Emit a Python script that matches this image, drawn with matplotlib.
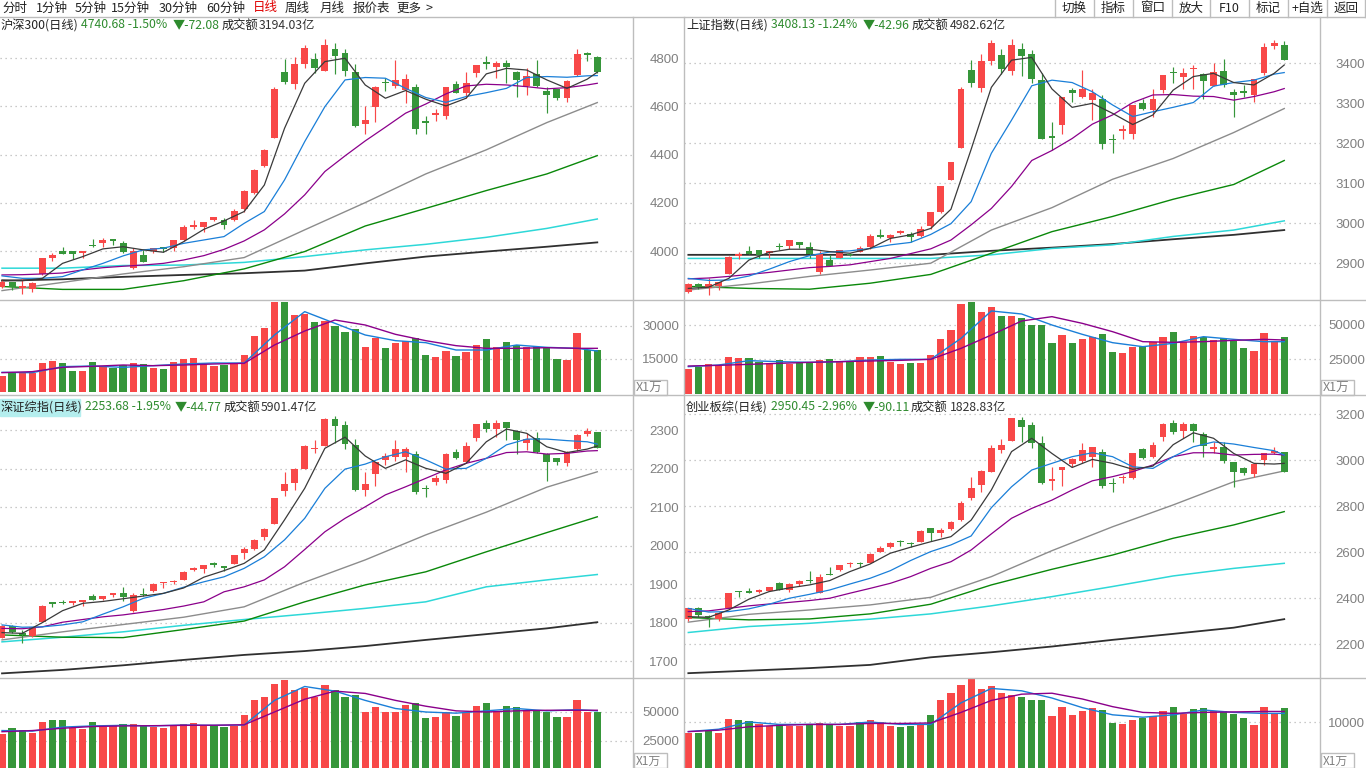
import matplotlib
matplotlib.use('Agg')
import matplotlib.pyplot as plt
from matplotlib.lines import Line2D
from matplotlib.patches import Rectangle

plt.rcParams['font.family'] = ['Noto Sans CJK SC', 'DejaVu Sans']

W, H = 1366, 768
RED = '#f84848'
GREEN = '#36963a'
MA_COLORS = ['#3a3a3a', '#1a7fd8', '#8b008b', '#8c8c8c', '#0a880a', '#2ed8d8', '#303030']
VMA_COLORS = ['#1a7fd8', '#8b008b']
SEP = '#bdbdbd'
LBL = '#808080'

MA_X_S = list(range(0, 60, 2)) + [59]
MA_X_L = list(range(0, 60, 6)) + [59]
VMA_X = list(range(0, 60, 3)) + [59]

# ---------------- 沪深300 ----------------
hs_open = [3853,3871,3848,3843,3904,3973,4000,4000,3991,4025,
           4032,4046,4032,3931,3983,4000,4014,4012,4046,4101,
           4101,4129,4128,4129,4175,4240,4353,4467,4743,4695,
           4774,4797,4745,4839,4821,4742,4527,4599,4700,4686,
           4668,4680,4537,4565,4561,4693,4655,4740,4782,4765,
           4782,4743,4686,4733,4664,4671,4633,4731,4818,4807]
hs_high = [3880,3873,3887,3871,3973,3994,4016,4000,4000,4049,
           4053,4046,4041,4012,4005,4012,4018,4046,4108,4129,
           4122,4143,4136,4173,4254,4341,4422,4682,4796,4804,
           4855,4822,4879,4862,4839,4776,4602,4685,4717,4793,
           4735,4693,4561,4588,4682,4707,4743,4772,4810,4789,
           4793,4749,4758,4793,4682,4671,4710,4839,4825,4811]
hs_low = [3846,3839,3821,3832,3901,3960,3987,3967,3970,4018,
          4018,4025,3991,3926,3956,3991,3998,4002,4043,4090,
          4081,4126,4093,4126,4164,4237,4350,4467,4691,4674,
          4761,4738,4745,4733,4728,4516,4486,4537,4664,4678,
          4613,4485,4485,4541,4548,4655,4634,4724,4754,4717,
          4696,4641,4648,4680,4572,4627,4620,4728,4790,4740]
hs_close = [3871,3850,3855,3866,3971,3984,3987,3987,4000,4021,
            4045,4043,3998,4000,3956,4012,4009,4046,4100,4104,
            4121,4140,4108,4166,4249,4337,4420,4674,4703,4776,
            4843,4758,4855,4811,4747,4519,4544,4682,4696,4710,
            4714,4508,4533,4569,4680,4657,4699,4772,4778,4782,
            4765,4710,4727,4686,4648,4634,4706,4818,4814,4741]
hs_vol = [7280,8490,8790,8790,13030,14090,13030,9550,9550,13490,
          11520,11060,12270,13030,12580,11060,10460,13490,15000,15300,
          12580,11820,12270,12580,16820,25450,29090,41060,41060,35000,
          35450,31970,32270,30000,27270,28790,20610,24550,20150,22270,
          23330,24700,16820,16060,18640,16520,18030,21360,24090,20300,
          22730,21360,20610,20610,20150,15150,14700,26970,19090,19090]
hs_ma5 = [3880,3877,3887,3949,3977,4009,4018,4005,3995,4039,4090,4125,4164,4274,4509,4696,
          4786,4800,4689,4634,4666,4630,4602,4634,4735,4758,4751,4710,4675,4713,4742]
hs_ma10 = [3897,3887,3887,3894,3922,3949,3980,4005,4012,4032,4046,4060,4115,4164,4295,4454,
           4599,4710,4720,4717,4675,4637,4617,4641,4657,4675,4720,4724,4721,4727,4728]
hs_ma20 = [3901,3902,3905,3909,3922,3931,3937,3942,3949,3963,3981,4007,4042,4088,4154,4233,
           4330,4395,4457,4514,4572,4610,4652,4685,4692,4689,4682,4673,4678,4689,4696]
hs_ma30 = [3836,3870,3905,3935,3973,4088,4201,4320,4420,4533,4616]
hs_ma60 = [3853,3841,3841,3877,3926,3998,4104,4177,4251,4320,4396]
hs_ma120 = [3929,3929,3940,3942,3953,3977,4005,4028,4057,4094,4133]
hs_ma250 = [3877,3883,3893,3901,3908,3919,3949,3977,3998,4018,4036]
hs_vma5 = [8940,8790,11520,11820,11210,11970,12730,13180,13180,25910,36520,
           31210,25910,23330,22420,19090,19090,21360,20300,19850,18640]
hs_vma10 = [8790,9250,11210,11670,12270,11970,12270,12730,13030,21360,27730,
            32730,30450,26210,23330,21060,19850,19850,20150,19850,19850]

# ---------------- 上证指数 ----------------
sh_open = [2829,2848,2839,2842,2873,2919,2931,2933,2925,2943,
           2942,2953,2940,2879,2908,2914,2923,2929,2940,2968,
           2964,2975,2973,2967,2994,3027,3107,3189,3383,3339,
           3406,3421,3382,3435,3423,3358,3217,3246,3333,3317,
           3308,3312,3212,3232,3223,3300,3283,3333,3377,3367,
           3385,3373,3344,3381,3328,3331,3321,3375,3444,3446]
sh_high = [2850,2850,2862,2854,2917,2929,2943,2933,2931,2950,
           2958,2953,2952,2931,2921,2933,2926,2942,2973,2985,
           2973,2983,2977,2992,3029,3093,3153,3340,3408,3423,
           3458,3435,3461,3452,3433,3375,3253,3315,3339,3383,
           3337,3321,3223,3246,3296,3311,3335,3371,3392,3389,
           3396,3377,3402,3410,3337,3346,3360,3452,3458,3456]
sh_low = [2825,2835,2821,2833,2873,2910,2923,2912,2912,2933,
          2936,2937,2912,2872,2893,2914,2917,2927,2936,2962,
          2952,2973,2954,2965,2985,3025,3107,3189,3340,3329,
          3397,3373,3371,3369,3350,3212,3183,3223,3304,3314,
          3258,3186,3177,3212,3212,3283,3265,3327,3352,3336,
          3336,3310,3344,3340,3267,3317,3304,3371,3437,3408]
sh_close = [2848,2840,2847,2854,2915,2923,2923,2921,2931,2940,
            2958,2946,2923,2922,2893,2933,2920,2939,2968,2966,
            2971,2981,2965,2985,3028,3092,3153,3337,3350,3406,
            3452,3387,3446,3418,3362,3212,3214,3315,3325,3335,
            3325,3198,3208,3233,3296,3287,3311,3371,3375,3377,
            3387,3357,3379,3346,3322,3325,3360,3440,3451,3408]
sh_vol = [18000,19690,21610,19930,26650,25930,25930,23290,22090,24490,
          21610,22570,23290,24490,25210,23290,23290,26650,26650,27370,
          23050,21610,22330,22570,28090,39620,46110,64840,66530,59080,
          62680,56200,56200,54520,49710,49710,36740,42510,36740,39620,
          41070,43230,30260,29540,34100,34580,37220,41070,44670,37700,
          41790,41070,39140,40110,37940,33140,30980,43710,38420,41070]
sh_ma5 = [2837,2840,2862,2908,2927,2935,2935,2929,2925,2937,2962,2971,2987,3035,3185,3340,
          3408,3415,3336,3290,3300,3275,3247,3271,3333,3367,3375,3352,3346,3375,3396]
sh_ma10 = [2862,2857,2858,2868,2885,2904,2919,2928,2931,2937,2946,2952,2972,2999,3054,3175,
           3258,3344,3358,3352,3329,3296,3267,3279,3290,3302,3343,3352,3358,3373,3377]
sh_ma20 = [2861,2863,2867,2872,2877,2883,2889,2892,2896,2904,2912,2924,2936,2958,2996,3037,
           3092,3157,3182,3212,3248,3271,3302,3321,3322,3318,3317,3308,3317,3329,3337]
sh_ma30 = [2833,2848,2867,2883,2900,2983,3039,3110,3162,3227,3287]
sh_ma60 = [2842,2837,2835,2850,2872,2925,2979,3017,3060,3097,3157]
sh_ma120 = [2912,2912,2912,2912,2912,2921,2937,2946,2967,2983,3006]
sh_ma250 = [2921,2921,2921,2921,2921,2931,2939,2948,2960,2971,2983]
sh_vma5 = [19690,20890,24010,23290,22810,23290,24490,24970,24970,40100,59800,
           57640,49710,42990,36980,34100,36500,41300,39380,37700,37700]
sh_vma10 = [20170,20650,21370,22090,22810,23290,23770,24250,24970,32900,42510,
            52600,55720,50910,44910,37700,37220,37700,38660,39380,38900]

# ---------------- 深证综指 ----------------
sz_open = [1761,1791,1774,1765,1802,1852,1854,1852,1854,1870,
           1862,1872,1877,1830,1873,1882,1902,1905,1912,1937,
           1939,1952,1945,1952,1982,1992,2022,2057,2142,2162,
           2199,2250,2260,2329,2314,2262,2145,2186,2223,2231,
           2230,2238,2151,2166,2171,2244,2218,2279,2318,2303,
           2322,2298,2266,2279,2238,2227,2214,2251,2290,2296]
sz_high = [1794,1794,1781,1789,1845,1854,1860,1854,1859,1874,
           1870,1878,1892,1878,1889,1902,1905,1911,1935,1945,
           1950,1958,1948,1977,1996,2018,2045,2125,2192,2201,
           2261,2275,2331,2336,2323,2277,2192,2218,2240,2275,
           2256,2247,2157,2184,2240,2251,2269,2316,2327,2327,
           2322,2301,2294,2296,2242,2229,2246,2290,2305,2296]
sz_low = [1759,1774,1748,1763,1801,1841,1848,1846,1844,1859,
          1859,1866,1857,1828,1869,1880,1890,1900,1912,1933,
          1928,1944,1933,1952,1966,1989,2016,2057,2129,2144,
          2199,2240,2260,2268,2251,2142,2130,2155,2210,2221,
          2192,2134,2126,2157,2164,2225,2214,2273,2296,2282,
          2275,2238,2249,2242,2169,2210,2207,2247,2285,2254]
sz_close = [1791,1776,1769,1788,1843,1849,1850,1854,1857,1859,
            1869,1876,1866,1872,1871,1900,1905,1908,1931,1939,
            1950,1950,1943,1975,1992,2016,2043,2125,2160,2199,
            2259,2252,2329,2312,2263,2145,2160,2218,2233,2251,
            2251,2140,2147,2177,2238,2227,2259,2316,2303,2318,
            2305,2275,2277,2244,2218,2218,2244,2288,2298,2254]
sz_vol = [31030,36200,34480,31900,41380,43100,43100,36200,35340,41380,
          37070,37930,39650,39650,38790,37070,36200,37930,39650,40510,
          38790,37930,37070,37930,47410,60340,62930,74130,77580,68960,
          70680,62930,73270,68960,62930,64650,50000,54310,50000,50000,
          56030,57750,44820,45690,50000,46550,50000,55170,57750,50000,
          55170,54310,51720,51720,50000,45690,45690,60340,50000,50000]
sz_ma5 = [1774,1772,1800,1831,1850,1855,1862,1869,1876,1890,1918,1935,1954,1989,2067,2149,
          2253,2282,2233,2201,2223,2201,2188,2214,2270,2303,2292,2257,2242,2251,2259]
sz_ma10 = [1794,1788,1789,1794,1802,1822,1841,1863,1876,1892,1906,1919,1941,1971,2015,2071,
           2149,2199,2212,2231,2244,2223,2199,2201,2227,2262,2277,2277,2273,2270,2264]
sz_ma20 = [1785,1784,1789,1801,1808,1815,1820,1827,1834,1843,1854,1880,1893,1911,1945,1990,
           2036,2071,2101,2132,2153,2175,2197,2214,2227,2242,2244,2238,2240,2246,2247]
sz_ma30 = [1755,1776,1795,1814,1841,1905,1963,2028,2087,2152,2192]
sz_ma60 = [1768,1762,1761,1782,1804,1854,1898,1932,1984,2034,2075]
sz_ma120 = [1750,1762,1776,1793,1808,1822,1837,1854,1893,1911,1925]
sz_ma250 = [1668,1677,1689,1703,1716,1726,1739,1755,1770,1785,1801]
sz_vma5 = [34000,33500,37000,38000,38500,38000,38800,38500,38800,60000,72000,
           68000,60000,53000,50000,49000,51000,53000,51000,52000,51000]
sz_vma10 = [33000,34000,36000,37500,38000,38200,38500,38600,39000,50000,61000,
            68000,66000,60000,55000,51000,50000,51000,51500,51500,51500]

# ---------------- 创业板综 ----------------
cy_open = [2309,2356,2323,2309,2356,2432,2429,2429,2432,2465,
           2436,2461,2481,2425,2503,2523,2549,2555,2555,2603,
           2622,2646,2639,2646,2704,2683,2701,2740,2835,2893,
           2951,3045,3085,3175,3154,3077,2911,2958,2984,2998,
           3013,3038,2903,2922,2925,3048,3016,3103,3161,3129,
           3158,3114,3049,3056,2993,2965,2940,3001,3033,3035]
cy_high = [2359,2361,2327,2338,2425,2432,2443,2439,2451,2469,
           2465,2480,2519,2506,2538,2545,2559,2559,2596,2627,
           2646,2654,2646,2697,2707,2704,2736,2825,2929,2958,
           3067,3093,3183,3190,3168,3106,2969,2969,3009,3077,
           3059,3048,2922,2936,3033,3052,3081,3161,3175,3168,
           3161,3125,3078,3081,2994,2969,2987,3033,3056,3038]
cy_low = [2303,2320,2274,2303,2352,2407,2422,2425,2432,2436,
          2429,2455,2465,2422,2500,2519,2538,2535,2552,2603,
          2617,2629,2625,2643,2649,2668,2697,2736,2827,2864,
          2951,3033,3085,3081,3052,2897,2871,2888,2969,2987,
          2969,2878,2864,2903,2917,3004,3009,3085,3114,3096,
          3081,3013,3033,2990,2885,2936,2929,2980,3027,2950]
cy_close = [2356,2325,2317,2335,2425,2427,2425,2433,2448,2436,
            2462,2475,2475,2491,2500,2543,2555,2549,2593,2617,
            2639,2643,2635,2693,2685,2697,2732,2816,2878,2954,
            3052,3067,3183,3146,3077,2903,2916,2969,3004,3045,
            3056,2888,2897,2929,3030,3009,3067,3158,3125,3158,
            3129,3064,3059,2998,2951,2943,2983,3030,3041,2950]
cy_vol = [7710,7710,8130,7710,10620,10420,10210,9580,9170,9580,
          9170,9170,9580,9790,9380,9170,9170,10000,10420,10000,
          9170,8960,9170,9380,11460,14580,16040,17710,18960,16870,
          17500,16040,15620,15210,14580,14580,11250,13130,11460,12290,
          12920,12500,9790,9580,10420,10830,11250,12290,13130,11670,
          12710,12920,12290,12290,11670,10830,9380,13130,11670,12920]
cy_ma5 = [2320,2317,2349,2396,2429,2445,2458,2477,2516,2549,2596,2622,2646,2668,2740,2871,
          3038,3096,3030,2969,3004,2987,2961,2975,3068,3120,3096,3030,2987,2984,2987]
cy_ma10 = [2356,2340,2342,2354,2374,2400,2417,2436,2462,2487,2520,2564,2603,2632,2671,2794,
           2885,2958,2987,3016,3033,3016,2972,2965,3016,3059,3080,3071,3056,3042,3023]
cy_ma20 = [2342,2345,2356,2367,2375,2382,2390,2400,2422,2443,2465,2494,2530,2559,2610,2680,
           2748,2791,2827,2871,2911,2929,2951,2980,3016,3033,3033,3023,3026,3027,3023]
cy_ma30 = [2296,2330,2349,2371,2404,2494,2607,2711,2806,2907,2954]
cy_ma60 = [2316,2306,2310,2332,2374,2458,2526,2588,2661,2719,2777]
cy_ma120 = [2251,2277,2291,2309,2332,2367,2407,2451,2497,2530,2552]
cy_ma250 = [2074,2085,2096,2110,2143,2165,2190,2219,2245,2272,2309]
cy_vma5 = [8000,8500,10000,9500,9500,9500,10000,9500,9500,14000,17000,
           16500,15000,13000,11500,11000,11500,12500,12000,11800,11800]
cy_vma10 = [8000,8300,9000,9300,9500,9500,9700,9700,9800,12000,14500,
            15800,16000,14800,13200,12000,11800,12000,12100,12200,12200]

fig = plt.figure(figsize=(W / 100, H / 100), dpi=100)
fig.patch.set_facecolor('white')


def px_axes(x0, y0, x1, y1):
    ax = fig.add_axes([x0 / W, 1 - y1 / H, (x1 - x0) / W, (y1 - y0) / H])
    ax.set_facecolor('none')
    for s in ax.spines.values():
        s.set_visible(False)
    ax.tick_params(axis='x', bottom=False, labelbottom=False)
    return ax


def style_y(ax, ticks, pad_px, fmt):
    ax.set_yticks(ticks)
    ax.set_yticklabels([fmt(t) for t in ticks])
    ax.yaxis.tick_right()
    ax.tick_params(axis='y', length=0, labelsize=9.5, labelcolor=LBL, pad=pad_px * 0.72)
    for lab in ax.get_yticklabels():
        lab.set_horizontalalignment('right')
        lab.set_fontfamily(['Liberation Sans', 'DejaVu Sans'])
    ax.grid(axis='y', color='#b8b8b8', linestyle=(0, (1, 3)), linewidth=0.9)
    ax.set_axisbelow(True)


def panel(px, pv, xlim, ylim_p, ylim_v, o, h, l, c, vol, ma_s, ma_l, vmas,
          pticks, vticks, pad_px):
    axp = px_axes(*px)
    axv = px_axes(*pv)
    n = len(o)
    x = list(range(n))
    cols = [RED if cc >= oo else GREEN for oo, cc in zip(o, c)]
    hpx = px[3] - px[1]
    upp = (ylim_p[1] - ylim_p[0]) / hpx
    bottoms = [min(oo, cc) for oo, cc in zip(o, c)]
    heights = [max(abs(cc - oo), 1.4 * upp) for oo, cc in zip(o, c)]
    for vals, col, lw in zip(ma_l[::-1], [MA_COLORS[6], MA_COLORS[5], MA_COLORS[4], MA_COLORS[3]],
                             [1.3, 1.1, 1.0, 1.0]):
        axp.plot(MA_X_L, vals, color=col, lw=lw, zorder=2)
    axp.vlines(x, l, h, colors=cols, linewidth=0.85, zorder=3)
    axp.bar(x, heights, bottom=bottoms, width=0.68, color=cols, linewidth=0, zorder=3)
    for vals, col in zip(ma_s[::-1], [MA_COLORS[2], MA_COLORS[1], MA_COLORS[0]]):
        axp.plot(MA_X_S, vals, color=col, lw=0.9, zorder=4)
    axp.set_xlim(*xlim)
    axp.set_ylim(*ylim_p)
    style_y(axp, pticks, pad_px, lambda t: f'{t:d}')

    axv.bar(x, vol, width=0.72, color=cols, linewidth=0, zorder=3)
    for vals, col in zip(vmas, VMA_COLORS):
        axv.plot(VMA_X, vals, color=col, lw=1.0, zorder=4)
    axv.set_xlim(*xlim)
    axv.set_ylim(*ylim_v)
    style_y(axv, vticks, pad_px, lambda t: f'{t:d}')
    return axp, axv


XL_L = (-0.2, 62.54)
XL_R = (-0.43, 62.54)

panel((0, 17, 633, 300), (0, 300, 633, 395), XL_L, (3797, 4971), (-1364, 41818),
      hs_open, hs_high, hs_low, hs_close, hs_vol,
      [hs_ma5, hs_ma10, hs_ma20], [hs_ma30, hs_ma60, hs_ma120, hs_ma250],
      [hs_vma5, hs_vma10], [4000, 4200, 4400, 4600, 4800], [15000, 30000], 46)

panel((684, 17, 1320, 300), (684, 300, 1320, 395), XL_R, (2808, 3516), (-720, 67723),
      sh_open, sh_high, sh_low, sh_close, sh_vol,
      [sh_ma5, sh_ma10, sh_ma20], [sh_ma30, sh_ma60, sh_ma120, sh_ma250],
      [sh_vma5, sh_vma10], [2900, 3000, 3100, 3200, 3300, 3400], [25000, 50000], 45)

panel((0, 396, 633, 678), (0, 678, 633, 768), XL_L, (1656, 2389), (1724, 79310),
      sz_open, sz_high, sz_low, sz_close, sz_vol,
      [sz_ma5, sz_ma10, sz_ma20], [sz_ma30, sz_ma60, sz_ma120, sz_ma250],
      [sz_vma5, sz_vma10], [1700, 1800, 1900, 2000, 2100, 2200, 2300], [25000, 50000], 46)

panel((684, 396, 1320, 678), (684, 678, 1320, 768), XL_R, (2053, 3280), (417, 19170),
      cy_open, cy_high, cy_low, cy_close, cy_vol,
      [cy_ma5, cy_ma10, cy_ma20], [cy_ma30, cy_ma60, cy_ma120, cy_ma250],
      [cy_vma5, cy_vma10], [2200, 2400, 2600, 2800, 3000, 3200], [10000], 45)


def hline(y, x0=0, x1=W, color=SEP, lw=1.0):
    fig.add_artist(Line2D([x0 / W, x1 / W], [1 - y / H, 1 - y / H], color=color, lw=lw,
                          transform=fig.transFigure))


def vline(x, y0=0, y1=H, color=SEP, lw=1.0):
    fig.add_artist(Line2D([x / W, x / W], [1 - y0 / H, 1 - y1 / H], color=color, lw=lw,
                          transform=fig.transFigure))


hline(17)
for yy in (300, 395, 678):
    hline(yy)
for xx in (633, 684, 1320):
    vline(xx, 17, H)


def ftext(x, y, s, color='#222222', size=9, ha='left', **kw):
    fig.text(x / W, 1 - y / H, s, color=color, fontsize=size, ha=ha, va='center', **kw)


tool = [(2, '分时'), (36, '1分钟'), (75, '5分钟'), (111, '15分钟'), (159, '30分钟'),
        (206, '60分钟'), (253, '日线'), (285, '周线'), (320, '月线'), (353, '报价表'), (396, '更多')]
for xx, s in tool:
    ftext(xx, 8, s, color=('#e00000' if s == '日线' else '#222222'))
ftext(425, 8, '>', color='#222222')
btn_x = [1055, 1094, 1133, 1172, 1210, 1249, 1288, 1327, 1365]
btn_t = ['切换', '指标', '窗口', '放大', 'F10', '标记', '+自选', '返回']
for xx in btn_x:
    vline(xx, 0, 17)
for i, s in enumerate(btn_t):
    ftext((btn_x[i] + btn_x[i + 1]) / 2, 8, s, ha='center')

GTXT = '#2e8b2e'


def header(x0, y, name, pieces):
    ftext(x0, y, name, size=8.8)
    for xx, s, col in pieces:
        ftext(xx, y, s, color=col, size=8.8)


header(1, 25, '沪深300(日线)', [(81, '4740.68 -1.50%', GTXT), (173, '▼-72.08', GTXT),
                               (222, '成交额', '#222222'), (259, '3194.03亿', '#333333')])
header(686, 25, '上证指数(日线)', [(771, '3408.13 -1.24%', GTXT), (863, '▼-42.96', GTXT),
                                (912, '成交额', '#222222'), (950, '4982.62亿', '#333333')])
fig.add_artist(Rectangle((0, 1 - 416 / H), 80 / W, 17 / H, transform=fig.transFigure,
                         color='#b4eeee', zorder=0))
header(1, 407, '深证综指(日线)', [(85, '2253.68 -1.95%', GTXT), (175, '▼-44.77', GTXT),
                                (224, '成交额', '#222222'), (261, '5901.47亿', '#333333')])
header(686, 407, '创业板综(日线)', [(771, '2950.45 -2.96%', GTXT), (863, '▼-90.11', GTXT),
                                (911, '成交额', '#222222'), (950, '1828.83亿', '#333333')])

for bx, by, sz in ((634, 380, 9), (1321, 380, 9), (634, 753, 8.5), (1321, 753, 8.5)):
    fig.add_artist(Rectangle((bx / W, 1 - (by + 15) / H), 33 / W, 15 / H, transform=fig.transFigure,
                             fill=False, edgecolor=SEP, lw=1.0))
    ftext(bx + 2, by + 8, 'X1万', color=LBL, size=sz)

fig.savefig('out.png', dpi=100, facecolor='white')
